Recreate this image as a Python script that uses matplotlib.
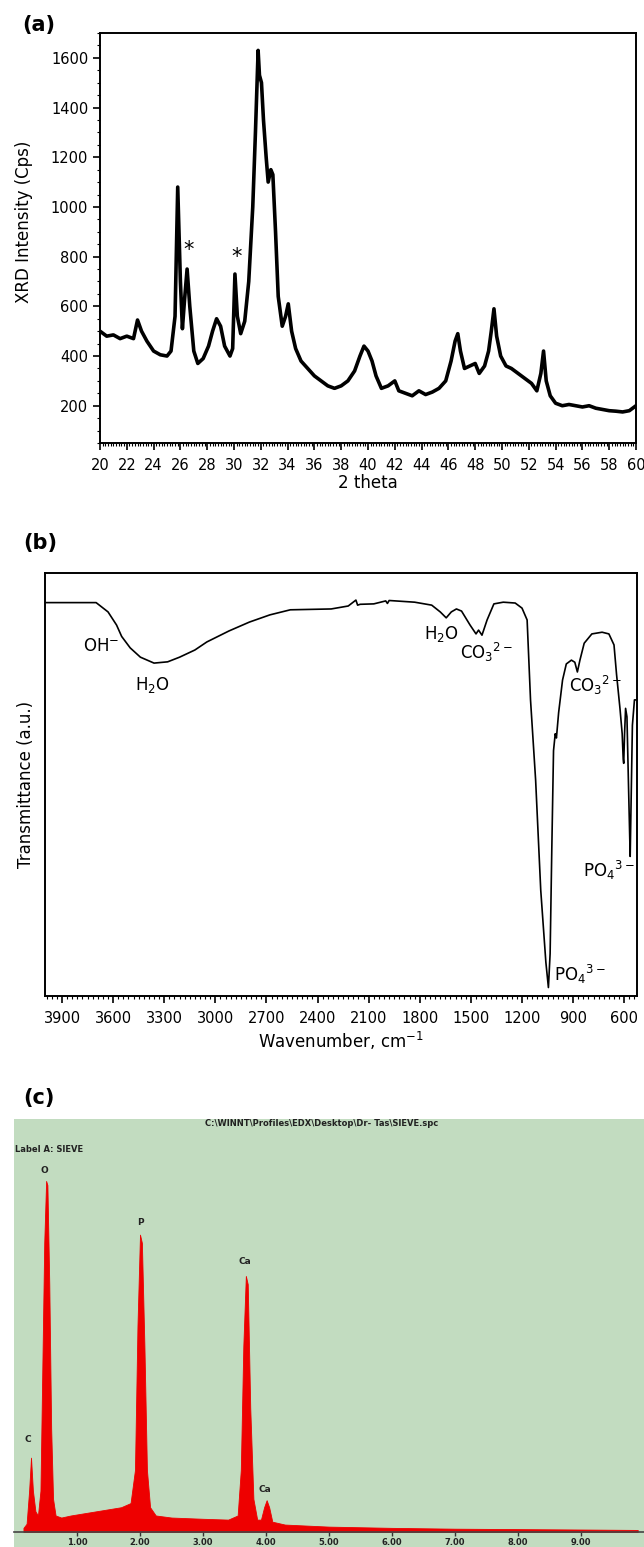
import matplotlib
matplotlib.use("Agg")
import matplotlib.pyplot as plt
from matplotlib.ticker import MultipleLocator
from matplotlib.patches import Rectangle

plt.rcParams['font.family'] = ['DejaVu Sans']
plt.rcParams['mathtext.default'] = 'regular'

# (a) XRD pattern
two_theta = [20, 20.5, 21, 21.5, 22, 22.5, 22.8, 23.1, 23.5, 24, 24.5, 25, 25.3, 25.6, 25.8,
             26.0, 26.15, 26.3, 26.5, 26.7, 27.0, 27.3, 27.7, 28.1, 28.4, 28.7, 29.0, 29.3,
             29.7, 29.9, 30.07, 30.25, 30.5, 30.8, 31.1, 31.4, 31.6, 31.8, 31.9, 32.05, 32.2,
             32.4, 32.55, 32.75, 32.9, 33.1, 33.3, 33.6, 33.85, 34.05, 34.3, 34.6, 35, 35.5,
             36, 36.5, 37, 37.5, 38, 38.5, 39, 39.4, 39.7, 40.0, 40.3, 40.6, 41.0, 41.5, 42.0,
             42.3, 42.8, 43.3, 43.8, 44.3, 44.8, 45.3, 45.8, 46.2, 46.5, 46.7, 46.9, 47.2,
             47.6, 48.0, 48.3, 48.7, 49.0, 49.2, 49.4, 49.6, 49.9, 50.3, 50.7, 51.2, 51.7,
             52.2, 52.6, 52.9, 53.1, 53.3, 53.6, 54.0, 54.5, 55, 55.5, 56, 56.5, 57, 57.5,
             58, 58.5, 59, 59.5, 60]
xrd_counts = [500, 480, 485, 470, 480, 470, 545, 500, 460, 420, 405, 400, 420, 560, 1080,
              700, 510, 620, 750, 600, 420, 370, 390, 440, 500, 550, 520, 440, 400, 430, 730,
              560, 490, 540, 700, 1000, 1300, 1630, 1530, 1500, 1350, 1200, 1100, 1150, 1130,
              900, 640, 520, 560, 610, 500, 430, 380, 350, 320, 300, 280, 270, 280, 300, 340,
              400, 440, 420, 380, 320, 270, 280, 300, 260, 250, 240, 260, 245, 255, 270, 300,
              380, 460, 490, 420, 350, 360, 370, 330, 360, 420, 500, 590, 480, 400, 360, 350,
              330, 310, 290, 260, 330, 420, 300, 240, 210, 200, 205, 200, 195, 200, 190, 185,
              180, 178, 175, 180, 200]
star_pos = [(26.6, 825), (30.2, 800)]

# (b) FTIR spectrum
wavenumber = [4000, 3700, 3630, 3580, 3550, 3500, 3440, 3360, 3280, 3210, 3120, 3050, 2920,
              2800, 2680, 2560, 2320, 2220, 2175, 2165, 2150, 2070, 2000, 1990, 1980, 1830,
              1730, 1680, 1645, 1615, 1585, 1555, 1505, 1470, 1455, 1435, 1405, 1365, 1310,
              1240, 1200, 1170, 1150, 1120, 1090, 1060, 1045, 1035, 1025, 1015, 1005, 998,
              985, 962, 940, 910, 890, 875, 860, 835, 790, 730, 690, 660, 645, 625, 612, 606,
              603, 598, 592, 584, 575, 568, 565, 560, 552, 540, 525]
transmittance = [93, 93, 90.8, 87.7, 85, 82.3, 80.1, 78.7, 79, 80.1, 81.8, 83.7, 86.3, 88.4,
                 90.1, 91.3, 91.5, 92.2, 93.6, 92.4, 92.6, 92.7, 93.4, 92.8, 93.5, 93.1, 92.4,
                 90.8, 89.4, 90.8, 91.5, 91, 87.7, 85.6, 86.5, 85.3, 88.9, 92.7, 93.1, 92.9,
                 91.7, 88.9, 70, 51, 25, 8, 2, 10, 35, 58, 62, 61, 67, 74.7, 78.5, 79.4, 78.9,
                 76.6, 79.4, 83.4, 85.6, 86, 85.6, 83, 76, 68, 62, 56, 55, 62, 68, 66, 50, 38,
                 33, 45, 64, 70, 70]
ftir_labels = [("OH$^{-}$", 3671, 82.7), ("H$_2$O", 3367, 73.5), ("H$_2$O", 1674, 85.6),
               ("CO$_3$$^{2-}$", 1410, 81.3), ("CO$_3$$^{2-}$", 770, 73.3),
               ("PO$_4$$^{3-}$", 690, 29.6), ("PO$_4$$^{3-}$", 860, 5)]

# (c) EDX spectrum
energy = [0.15, 0.2, 0.24, 0.27, 0.3, 0.34, 0.38, 0.42, 0.45, 0.48, 0.51, 0.53, 0.56, 0.59,
          0.62, 0.66, 0.75, 0.9, 1.1, 1.3, 1.5, 1.7, 1.85, 1.92, 1.96, 2.0, 2.03, 2.07, 2.11,
          2.16, 2.25, 2.5, 3.0, 3.4, 3.55, 3.6, 3.64, 3.68, 3.71, 3.75, 3.8, 3.86, 3.92, 3.97,
          4.01, 4.05, 4.1, 4.3, 5, 6, 7, 8, 9, 9.9]
edx_counts = [1, 2, 10, 18, 10, 5, 4, 10, 40, 70, 85, 84, 60, 25, 8, 4, 3.5, 4, 4.5, 5, 5.5,
              6, 7, 15, 50, 72, 70, 45, 15, 6, 4, 3.5, 3.2, 3, 4, 15, 45, 62, 60, 30, 8, 3, 3,
              6, 7.7, 6, 2.5, 1.8, 1.3, 1.0, 0.8, 0.7, 0.6, 0.5]
edx_labels = [("C", 0.22, 22.3), ("O", 0.49, 87.6), ("P", 2.0, 75), ("Ca", 3.67, 65.4),
              ("Ca", 3.98, 10.2)]

W, H = 644, 1547
fig = plt.figure(figsize=(W / 100, H / 100), dpi=100)


def box(left, top, right, bottom):
    return [left / W, 1 - bottom / H, (right - left) / W, (bottom - top) / H]


# ---- (a)
ax1 = fig.add_axes(box(100, 33, 636, 443))
ax1.plot(two_theta, xrd_counts, color='black', lw=2.6)
ax1.set_xlim(20, 60)
ax1.set_ylim(50, 1700)
ax1.xaxis.set_major_locator(MultipleLocator(2))
ax1.xaxis.set_minor_locator(MultipleLocator(0.2))
ax1.yaxis.set_minor_locator(MultipleLocator(50))
ax1.set_yticks([200, 400, 600, 800, 1000, 1200, 1400, 1600])
ax1.tick_params(which='major', length=5, width=1.2, labelsize=10.5, direction='out')
ax1.tick_params(axis='x', which='major', pad=6)
ax1.tick_params(which='minor', length=2.5, width=0.8, direction='out')
for s in ax1.spines.values():
    s.set_linewidth(1.4)
for x, y in star_pos:
    ax1.text(x, y, "*", fontsize=15, ha='center', va='center')
ax1.set_ylabel("XRD Intensity (Cps)", fontsize=12)
ax1.set_xlabel("2 theta", fontsize=12)
ax1.yaxis.set_label_coords(-0.125, 0.54)
ax1.xaxis.set_label_coords(0.5, -0.075)
fig.text(22 / W, 1 - 25 / H, "(a)", fontsize=15, fontweight='bold', va='center')

# ---- (b)
ax2 = fig.add_axes(box(45, 573, 637, 996))
ax2.plot(wavenumber, transmittance, color='black', lw=1.2)
ax2.set_xlim(4000, 525)
ax2.set_ylim(0, 100)
ax2.set_yticks([])
ax2.set_xticks([3900, 3600, 3300, 3000, 2700, 2400, 2100, 1800, 1500, 1200, 900, 600])
ax2.xaxis.set_minor_locator(MultipleLocator(30))
ax2.tick_params(which='major', length=5, width=1.2, labelsize=10.5, pad=6)
ax2.tick_params(which='minor', length=2.5, width=0.8)
for s in ax2.spines.values():
    s.set_linewidth(1.4)
for txt, x, y in ftir_labels:
    ax2.text(x, y, txt, fontsize=12, ha='center', va='center')
ax2.set_ylabel("Transmittance (a.u.)", fontsize=12)
ax2.yaxis.set_label_coords(-0.017, 0.5)
ax2.set_xlabel("Wavenumber, cm$^{-1}$", fontsize=12)
ax2.xaxis.set_label_coords(0.5, -0.08)
fig.text(23 / W, 1 - 543 / H, "(b)", fontsize=15, fontweight='bold', va='center')

# ---- (c)
green = '#c2dcc0'
fig.patches.append(Rectangle((14 / W, 0), (W - 14) / W, 1 - 1119 / H,
                             transform=fig.transFigure, facecolor=green,
                             edgecolor='none', zorder=-1))
ax3 = fig.add_axes(box(14, 1119, 644, 1532))
ax3.set_facecolor(green)
ax3.fill_between(energy, edx_counts, 0, color='#ee0000', lw=0.6, edgecolor='#ee0000')
ax3.set_xlim(0, 10)
ax3.set_ylim(0, 100)
ax3.set_yticks([])
ax3.set_xticks([1, 2, 3, 4, 5, 6, 7, 8, 9])
ax3.set_xticklabels(["%.2f" % v for v in range(1, 10)], fontsize=6, fontweight='bold',
                    color='#222222')
ax3.tick_params(axis='x', length=3, width=1, color='#333333', pad=1)
for k in ['top', 'left', 'right']:
    ax3.spines[k].set_visible(False)
ax3.spines['bottom'].set_color('#444444')
ax3.spines['bottom'].set_linewidth(1.2)
for txt, x, y in edx_labels:
    ax3.text(x, y, txt, fontsize=6.5, fontweight='bold', color='#222222',
             ha='center', va='center')
fig.text(322 / W, 1 - 1123 / H, r"C:\WINNT\Profiles\EDX\Desktop\Dr- Tas\SIEVE.spc",
         fontsize=6, fontweight='bold', color='#222222', ha='center', va='center')
fig.text(15 / W, 1 - 1149 / H, "Label A: SIEVE", fontsize=6, fontweight='bold',
         color='#222222', ha='left', va='center')
fig.text(23 / W, 1 - 1098 / H, "(c)", fontsize=15, fontweight='bold', va='center')

fig.savefig("out.png", dpi=100)
